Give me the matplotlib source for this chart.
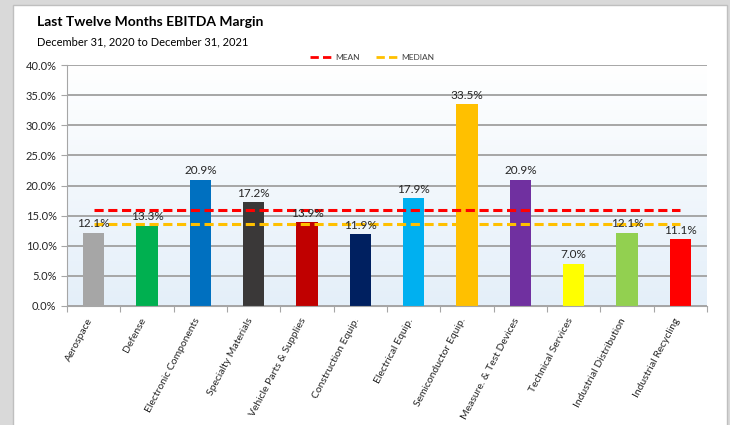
import matplotlib
matplotlib.use("Agg")
import matplotlib.pyplot as plt
import numpy as np
from matplotlib.patches import Rectangle
from matplotlib.ticker import FuncFormatter, MultipleLocator
from matplotlib.lines import Line2D
import matplotlib.transforms as mtransforms

categories = ["Aerospace", "Defense", "Electronic Components", "Specialty Materials",
              "Vehicle Parts & Supplies", "Construction Equip.", "Electrical Equip.",
              "Semiconductor Equip.", "Measure. & Test Devices", "Technical Services",
              "Industrial Distribution", "Industrial Recycling"]
values = [12.1, 13.3, 20.9, 17.2, 13.9, 11.9, 17.9, 33.5, 20.9, 7.0, 12.1, 11.1]
colors = ["#a6a6a6", "#00b050", "#0070c0", "#3a3838", "#c00000", "#002060",
          "#00b0f0", "#ffc000", "#7030a0", "#ffff00", "#92d050", "#ff0000"]
mean_val = 16.0
median_val = 13.6
title = "Last Twelve Months EBITDA Margin"
subtitle = "December 31, 2020 to December 31, 2021"

plt.rcParams['font.family'] = ['Lato', 'DejaVu Sans']

fig = plt.figure(figsize=(7.3, 4.25), dpi=100)
fig.patch.set_facecolor("#d9d9d9")
panel = Rectangle((13/730, -0.01), (727-13)/730, (425-5)/425 + 0.01,
                  transform=fig.transFigure, facecolor="white",
                  edgecolor="#bfbfbf", linewidth=1, zorder=-10)
fig.patches.append(panel)

ax = fig.add_axes([67/730, 1-306/425, (707-67)/730, (306-65)/425])
ax.set_zorder(5)
x = np.arange(len(categories))

grad = np.linspace(0, 1, 256).reshape(-1, 1)
cmap = matplotlib.colors.LinearSegmentedColormap.from_list("g", ["#ffffff", "#e4eff9"])
ax.imshow(grad, aspect="auto", cmap=cmap, extent=[-0.5, len(categories)-0.5, 0, 40],
          origin="upper", zorder=0)
ax.set_xlim(-0.5, len(categories)-0.5)
ax.set_ylim(0, 40)

ax.yaxis.set_major_locator(MultipleLocator(5))
ax.yaxis.set_major_formatter(FuncFormatter(lambda v, p: f"{v:.1f}%"))
ax.grid(axis="y", color="#a6a6a6", linewidth=1.4, zorder=1)
ax.set_axisbelow(True)

ax.bar(x, values, width=0.4, color=colors, zorder=2)
for xi, v in zip(x, values):
    ax.text(xi, v + 0.6, f"{v:.1f}%", ha="center", va="bottom", fontsize=8.5,
            color="#262626", zorder=4)

ax.plot([x[0], x[-1]], [mean_val, mean_val], color="#ff0000", lw=2.2,
        dashes=(3.0, 1.5), zorder=3)
ax.plot([x[0], x[-1]], [median_val, median_val], color="#ffc000", lw=2.2,
        dashes=(3.0, 1.5), zorder=3)

for s in ["top", "right"]:
    ax.spines[s].set_visible(False)
ax.spines["left"].set_color("#a6a6a6")
ax.spines["bottom"].set_color("#a6a6a6")
ax.tick_params(axis="y", colors="#a6a6a6", labelcolor="#262626", labelsize=8, length=4)

ax.set_xticks(np.arange(len(categories)+1) - 0.5)
ax.set_xticklabels([])
ax.tick_params(axis="x", colors="#a6a6a6", length=4)
ax.set_xticks(x, minor=True)
ax.set_xticklabels(categories, minor=True, rotation=62, ha="right", va="center",
                   rotation_mode="anchor", fontsize=7.5, color="#262626")
ax.tick_params(axis="x", which="minor", length=0, pad=9)
offset = mtransforms.ScaledTranslation(-3/100, 0, fig.dpi_scale_trans)
for lbl in ax.xaxis.get_minorticklabels():
    lbl.set_transform(lbl.get_transform() + offset)

fig.text(37/730, 1-22/425, title, fontsize=10, fontweight="bold", color="black",
         va="center", ha="left")
fig.text(37/730, 1-42/425, subtitle, fontsize=8, color="black", va="center", ha="left")

h1 = Line2D([], [], color="#ff0000", lw=2, dashes=(3.0, 1.5))
h2 = Line2D([], [], color="#ffc000", lw=2, dashes=(3.0, 1.5))
fig.legend([h1, h2], ["MEAN", "MEDIAN"], loc="center", bbox_to_anchor=(372/730, 1-57/425),
           ncol=2, frameon=False, fontsize=6, handlelength=2.8, handletextpad=0.2,
           columnspacing=2.0, labelcolor="#404040")

fig.savefig("out.png", dpi=100)
